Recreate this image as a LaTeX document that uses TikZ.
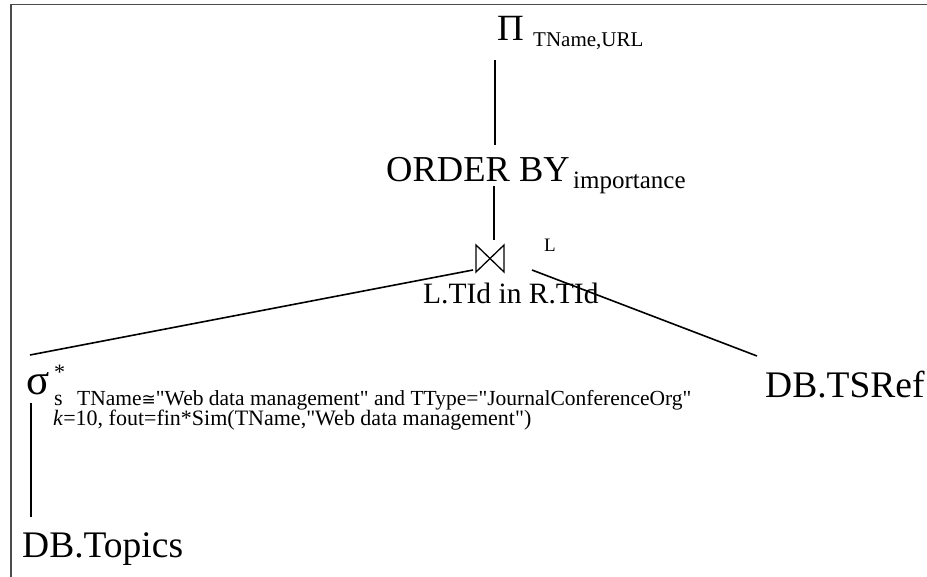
\documentclass[tikz,border=0pt]{standalone}
\usepackage{fontspec}
\setmainfont{Liberation Serif}[Ligatures=TeXOff]
\newfontfamily\symfont{DejaVu Sans}
\begin{document}
\begin{tikzpicture}[x=1pt,y=-1pt,
  lbl/.style={inner sep=0pt, anchor=base west},
  big/.style={font=\fontsize{37.5}{37.5}\selectfont},
  sm/.style={font=\fontsize{22}{22}\selectfont},
  edge/.style={line width=1.6pt, black}]
\useasboundingbox (0,0) rectangle (927,577);
\draw[black!70, line width=1.6pt] (11,577) -- (11,4.5) -- (927,4.5);
% projection
\node[lbl, font=\fontsize{37}{37}\selectfont] (pi) at (497,41) {Π};
\node[lbl, font=\fontsize{21}{21}\selectfont] (pisub) at (533,47) {TName,URL};
% order by
\node[lbl, font=\fontsize{36.5}{36.5}\selectfont] (ob) at (386,182) {ORDER BY};
\node[lbl, font=\fontsize{25}{25}\selectfont] (obsub) at (573,189) {importance};
% join
\draw[line width=1.3pt] (476,245) -- (504,272) -- (504,245) -- (476,272) -- cycle;
\coordinate (join) at (490,258);
\node[lbl, font=\fontsize{19}{19}\selectfont] (jl) at (544,252) {L};
\node[lbl, font=\fontsize{29.5}{29.5}\selectfont] (jcond) at (423,304) {L.TId in R.TId};
% selection
\node[lbl, font=\fontsize{43}{43}\selectfont] (sig) at (26,395) {σ};
\node[lbl, sm] (star) at (54,380) {*};
\node[lbl, sm] (ssub) at (54,406) {s};
\node[lbl, font=\fontsize{21.5}{21.5}\selectfont] (cond1) at (77,406) {TName{\symfont\fontsize{17}{17}\selectfont ≅}"Web data management" and TType="JournalConferenceOrg"};
\node[lbl, sm] (cond2) at (53,425) {\textit{k}=10, fout=fin*Sim(TName,"Web data management")};
% relations
\node[lbl, big] (topics) at (22,557) {DB.Topics};
\node[lbl, big] (tsref) at (765,398) {DB.TSRef};
% connector end points
\coordinate (piB) at (495,60);
\coordinate (obT) at (495,145);
\coordinate (obB) at (494,186);
\coordinate (joinT) at (494,240);
\coordinate (joinL) at (473,270);
\coordinate (sigT) at (30,355);
\coordinate (joinR) at (532,270);
\coordinate (tsrefT) at (757,356);
\coordinate (sigB) at (31,403);
\coordinate (topicsT) at (31,517);
\draw[edge] (piB) -- (obT);
\draw[edge] (obB) -- (joinT);
\draw[edge] (joinL) -- (sigT);
\draw[edge] (joinR) -- (tsrefT);
\draw[edge] (sigB) -- (topicsT);
\end{tikzpicture}
\end{document}
